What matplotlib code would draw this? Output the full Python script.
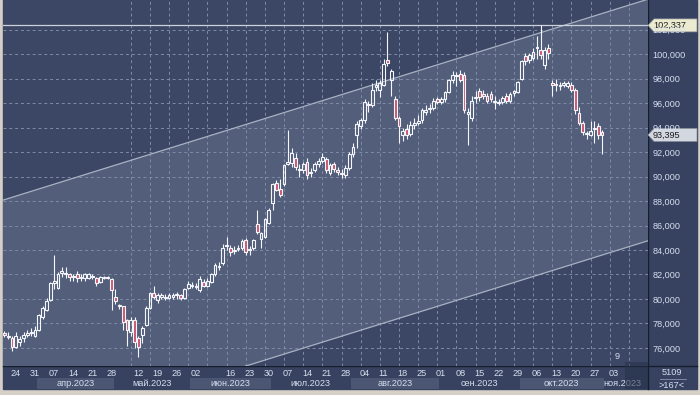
import numpy as np
import pandas as pd
import matplotlib
matplotlib.use('Agg')
import matplotlib.pyplot as plt
from matplotlib.patches import Rectangle, Polygon

plt.rcParams['font.family'] = ['Liberation Sans', 'DejaVu Sans']

# daily candles, USD/RUB futures, from 21 Mar 2023
opens = [77.2, 77.0, 76.8, 76.1, 76.5, 76.8, 77.1, 77.2, 77.0, 77.5,
         78.5, 79.1, 79.9, 81.3, 80.9, 82.1, 82.0, 82.0, 81.8, 82.0,
         81.7, 81.7, 81.7, 81.8, 81.7, 81.4, 81.7, 81.7, 81.6, 80.2,
         79.5, 79.4, 78.3, 77.3, 78.3, 76.8, 77.1, 77.9, 79.3, 80.5,
         79.9, 80.2, 80.2, 80.1, 80.2, 80.3, 80.3, 80.1, 80.9, 81.1,
         81.0, 80.7, 81.4, 81.1, 81.4, 82.0, 82.6, 82.9, 84.3, 84.2,
         83.9, 84.1, 84.2, 84.8, 84.0, 84.2, 86.1, 84.9, 85.1, 86.2,
         87.8, 89.5, 89.0, 89.4, 91.0, 91.1, 91.5, 90.6, 90.5, 91.2,
         90.3, 90.5, 91.0, 91.3, 91.4, 90.3, 91.0, 90.5, 90.3, 90.1,
         90.7, 91.8, 93.4, 94.1, 94.6, 95.9, 95.8, 97.3, 97.1, 97.5,
         99.5, 97.9, 96.3, 94.75, 93.4, 93.9, 93.5, 94.2, 94.4, 94.6,
         95.3, 95.5, 95.6, 96.3, 96.1, 96.3, 96.9, 97.9, 98.2, 98.4,
         98.3, 95.1, 94.75, 96.4, 97.0, 96.7, 96.6, 96.7, 96.1, 96.0,
         96.1, 96.6, 96.2, 96.8, 96.9, 98.0, 99.8, 99.5, 99.65, 100.5,
         100.3, 99.1, 100.5, 97.6, 97.5, 97.5, 97.5, 97.4, 97.5, 97.1,
         95.2, 94.4, 93.5, 93.4, 93.9, 94.1, 93.6]
highs = [77.4, 77.3, 77.0, 77.3, 77.0, 77.3, 77.5, 77.6, 77.8, 78.8,
         79.4, 80.1, 81.4, 83.6, 82.2, 82.6, 82.6, 82.1, 82.0, 82.3,
         82.0, 82.1, 82.1, 82.0, 81.8, 81.9, 81.9, 81.9, 81.7, 80.8,
         79.6, 79.4, 78.4, 78.5, 78.5, 77.0, 77.8, 79.4, 80.6, 81.1,
         80.5, 80.5, 80.4, 80.5, 80.5, 80.6, 80.4, 80.9, 81.5, 81.4,
         81.3, 81.9, 81.6, 81.7, 82.1, 82.9, 83.0, 84.5, 85.1, 84.4,
         84.3, 84.4, 84.9, 85.0, 84.3, 84.9, 87.3, 85.5, 86.6, 87.4,
         89.5, 89.7, 89.8, 91.0, 93.8, 92.3, 91.9, 91.0, 91.2, 91.5,
         90.7, 91.2, 91.5, 91.9, 91.6, 91.1, 91.2, 90.8, 90.6, 90.9,
         92.0, 92.7, 94.5, 94.8, 96.3, 96.2, 97.6, 97.9, 97.9, 99.6,
         101.8, 98.8, 96.6, 94.9, 94.0, 94.3, 94.5, 94.8, 95.0, 95.6,
         95.8, 95.9, 96.4, 96.5, 96.5, 97.0, 98.0, 98.6, 98.5, 98.7,
         98.5, 95.6, 96.6, 97.0, 97.2, 97.1, 96.8, 97.0, 96.6, 96.3,
         96.6, 96.8, 96.9, 97.1, 97.8, 99.5, 100.1, 100.1, 100.5, 101.5,
         102.337, 100.6, 100.8, 97.9, 98.0, 97.7, 97.8, 97.8, 97.7, 97.2,
         95.7, 94.5, 93.7, 94.5, 94.5, 94.4, 93.8]
lows = [76.9, 76.7, 75.75, 76.0, 76.2, 76.5, 76.9, 77.0, 76.9, 77.4,
        78.4, 79.0, 79.8, 80.8, 80.8, 81.8, 81.7, 81.5, 81.5, 81.4,
        81.5, 81.5, 81.6, 81.6, 81.1, 81.3, 81.6, 81.6, 79.1, 79.6,
        79.2, 77.5, 76.2, 77.0, 76.0, 75.239, 76.4, 77.8, 79.2, 80.0,
        79.7, 80.0, 79.9, 80.0, 80.0, 80.0, 79.9, 80.0, 80.8, 80.9,
        80.8, 80.6, 81.0, 81.0, 81.3, 81.9, 82.4, 82.8, 84.0, 83.5,
        83.7, 83.9, 84.0, 83.6, 83.6, 84.0, 85.3, 84.2, 85.0, 86.1,
        87.3, 88.8, 88.3, 89.2, 90.9, 90.8, 90.5, 90.0, 90.3, 89.8,
        90.0, 90.4, 90.8, 91.1, 90.3, 90.1, 90.4, 90.1, 89.9, 89.9,
        90.5, 91.6, 92.3, 93.9, 94.4, 95.3, 95.7, 97.0, 96.5, 97.4,
        99.0, 96.6, 94.6, 92.7, 92.9, 93.1, 93.3, 93.9, 94.2, 94.4,
        95.0, 95.2, 95.4, 95.9, 95.9, 96.1, 96.8, 97.6, 97.4, 97.7,
        95.2, 92.6, 94.5, 96.0, 96.2, 96.3, 96.0, 96.1, 95.5, 95.8,
        95.9, 96.0, 96.0, 96.6, 96.8, 97.9, 99.1, 99.3, 99.5, 99.6,
        99.6, 98.8, 99.6, 96.6, 97.0, 97.1, 97.3, 97.2, 96.9, 95.1,
        94.2, 93.4, 93.1, 93.3, 92.7, 93.1, 91.8]
closes = [77.1, 76.9, 76.1, 77.0, 76.7, 77.1, 77.2, 77.3, 77.5, 78.7,
          79.3, 79.8, 81.3, 81.5, 82.0, 82.3, 82.1, 81.8, 81.85, 81.7,
          81.8, 82.0, 82.0, 81.85, 81.3, 81.8, 81.8, 81.8, 80.7, 79.8,
          79.4, 78.1, 77.5, 78.3, 76.5, 76.1, 77.6, 79.3, 80.5, 80.2,
          80.3, 80.3, 80.1, 80.3, 80.3, 80.35, 80.1, 80.8, 81.2, 81.15,
          81.05, 81.6, 81.1, 81.5, 82.0, 82.8, 82.7, 84.2, 84.4, 83.8,
          84.0, 84.2, 84.7, 83.8, 84.0, 84.8, 85.5, 85.4, 86.5, 87.3,
          89.4, 88.9, 88.5, 90.9, 91.2, 91.9, 90.8, 90.5, 91.0, 90.1,
          90.4, 91.0, 91.3, 91.6, 90.5, 90.9, 90.6, 90.4, 90.2, 90.7,
          91.8, 92.4, 94.3, 94.6, 96.1, 95.8, 97.1, 97.5, 97.6, 99.2,
          99.3, 98.6, 94.75, 94.1, 93.7, 93.4, 94.2, 94.4, 94.5, 95.4,
          95.4, 95.6, 96.2, 96.1, 96.3, 96.9, 97.9, 98.3, 98.3, 97.9,
          95.4, 95.3, 96.2, 96.5, 96.5, 96.6, 96.2, 96.3, 96.2, 96.05,
          96.4, 96.2, 96.7, 97.0, 97.7, 99.4, 99.4, 99.9, 100.2, 100.6,
          99.9, 100.3, 100.1, 97.5, 97.5, 97.4, 97.6, 97.6, 97.1, 95.4,
          94.4, 93.6, 93.5, 93.7, 94.0, 93.4, 93.395]

holidays = ['2023-05-01', '2023-05-08', '2023-05-09', '2023-06-12', '2023-11-06']
day_labels = ['2023-03-24', '2023-03-31', '2023-04-07', '2023-04-14', '2023-04-21',
              '2023-04-28', '2023-05-12', '2023-05-19', '2023-05-26', '2023-06-02',
              '2023-06-16', '2023-06-23', '2023-06-30', '2023-07-07', '2023-07-14',
              '2023-07-21', '2023-07-28', '2023-08-04', '2023-08-11', '2023-08-18',
              '2023-08-25', '2023-09-01', '2023-09-08', '2023-09-15', '2023-09-22',
              '2023-09-29', '2023-10-06', '2023-10-13', '2023-10-20', '2023-10-27',
              '2023-11-03']
months = [4, 5, 6, 7, 8, 9, 10, 11]
month_names = ['апр', 'май', 'июн', 'июл', 'авг', 'сен', 'окт', 'ноя']

# regression channel: top line end points and width
channel_x = [-1, 170]
channel_top = [88.01, 104.67]
channel_width = 19.72

BG = '#3b4764'
CH = '#525e7a'
PANEL = '#36425f'
BAND = '#4a5672'
TXT = '#d6deee'
RED = '#c9566f'

o = np.array(opens); c = np.array(closes)
h = np.array(highs); l = np.array(lows)
x = np.arange(len(c))
dates = pd.bdate_range('2023-03-21', '2023-11-30', freq='C', holidays=holidays)

def fmt(v):
    return f'{v:.3f}'.replace('.', ',')

fig = plt.figure(figsize=(7, 3.95), dpi=100, facecolor='#d4d0c8')
frame = fig.add_axes([0, 0, 1, 1])
frame.set_xlim(0, 700)
frame.set_ylim(395, 0)
frame.axis('off')
frame.add_patch(Rectangle((3, 0), 694, 389, color=PANEL))

ax = fig.add_axes([3 / 700, 29 / 395, 645 / 700, 366 / 395])
ax.set_facecolor(BG)
xmin, xmax = -0.36, 166.14
ax.set_xlim(xmin, xmax)
ax.set_ylim(74.53, 104.41)
for s in ax.spines.values():
    s.set_visible(False)

top = np.array(channel_top)
ax.fill_between(channel_x, top - channel_width, top, color=CH, zorder=0, lw=0)
ax.plot(channel_x, top, color='#a9b1c3', lw=0.9, zorder=1)
ax.plot(channel_x, top - channel_width, color='#a9b1c3', lw=0.9, zorder=1)

ax.set_yticks(np.arange(76, 103, 2))
ax.set_yticklabels([fmt(v) for v in np.arange(76, 103, 2)])
ax.yaxis.tick_right()
ax.tick_params(axis='y', length=0, pad=3, labelsize=6.6, labelcolor=TXT)
ax.set_xticks(np.arange(3, 170, 5), minor=True)
label_pos = [dates.get_loc(pd.Timestamp(d)) for d in day_labels]
ax.set_xticks(label_pos)
ax.set_xticklabels([d[-2:] for d in day_labels])
ax.tick_params(axis='x', which='both', length=0, pad=2.5, labelsize=6.6, labelcolor=TXT)
ax.set_axisbelow(True)
ax.grid(which='minor', axis='x', color='#7f8ca8', lw=0.7, ls=(0, (3, 3)))
ax.grid(which='major', axis='y', color='#7f8ca8', lw=0.7, ls=(0, (3, 3)))
ax.grid(which='major', axis='x', visible=False)

ax.axhline(max(highs), color='#cdd1da', lw=0.9, zorder=2)

up = c >= o
body_lo = np.minimum(o, c)
body_hi = np.maximum(o, c)
body_h = np.maximum(body_hi - body_lo, 0.07)
ax.vlines(x, l, body_lo, color='#f4f6fa', lw=0.8, zorder=3)
ax.vlines(x, body_lo + body_h, h, color='#f4f6fa', lw=0.8, zorder=3)
ax.bar(x[up], body_h[up], 0.72, bottom=body_lo[up], facecolor='none',
       edgecolor='#f4f6fa', lw=0.8, zorder=4)
ax.bar(x[~up], body_h[~up], 0.72, bottom=body_lo[~up], facecolor=RED,
       edgecolor='#f4f6fa', lw=0.8, zorder=4)

# month row under the day labels
tr = ax.get_xaxis_transform()
for k, m in enumerate(months):
    idx = np.where(dates.month == m)[0]
    a, b = idx[0] - 0.5, idx[-1] + 0.5
    a_vis, b_vis = max(a, xmin), min(b, xmax)
    if k % 2 == 0:
        ax.add_patch(Rectangle((a, -0.0628), b_vis - a, 0.031, transform=tr,
                               clip_on=False, color=BAND, lw=0))
    ax.text((a_vis + b_vis) / 2, -0.049, f'{month_names[k]}.2023', transform=tr,
            ha='center', va='center', fontsize=6.6, color=TXT, clip_on=False)

ax.text(160, 74.9, '9', fontsize=6.6, color=TXT, ha='center', va='bottom')

# separators and price tags
frame.plot([648, 648], [0, 389], color='#161d2c', lw=1)
frame.plot([3, 697], [366, 366], color='#161d2c', lw=1)
frame.text(5, 8, f'USD/RUB_M 1D High = {fmt(max(highs))} Low = {fmt(min(lows))}',
           fontsize=6.8, color='#e6eaf2', va='center', ha='left')

for price, col in [(max(highs), '#eceacf'), (closes[-1], '#d3d7df')]:
    yp = 395 - ax.transData.transform((0, price))[1]
    frame.add_patch(Polygon([(648, yp), (654, yp - 6.5), (697, yp - 6.5),
                             (697, yp + 6.5), (654, yp + 6.5)], closed=True,
                            facecolor=col, edgecolor='#8a8f99', lw=0.5, zorder=5))
    frame.text(653, yp + 0.3, fmt(price), fontsize=6.6, color='#1c1c1c',
               va='center', ha='left', zorder=6)

frame.text(672, 372.5, '5109', fontsize=6.6, color=TXT, ha='center', va='center')
frame.plot([660, 686], [378.5, 378.5], color='#8a94aa', lw=0.6)
frame.text(672, 385, '>167<', fontsize=6.6, color=TXT, ha='center', va='center')

fig.add_artist(Rectangle((625 / 700, 6 / 395), 23 / 700, 27 / 395, transform=fig.transFigure,
                         color='#27314a', alpha=0.55, lw=0, zorder=5))

fig.savefig('out.png', dpi=100, facecolor=fig.get_facecolor())
